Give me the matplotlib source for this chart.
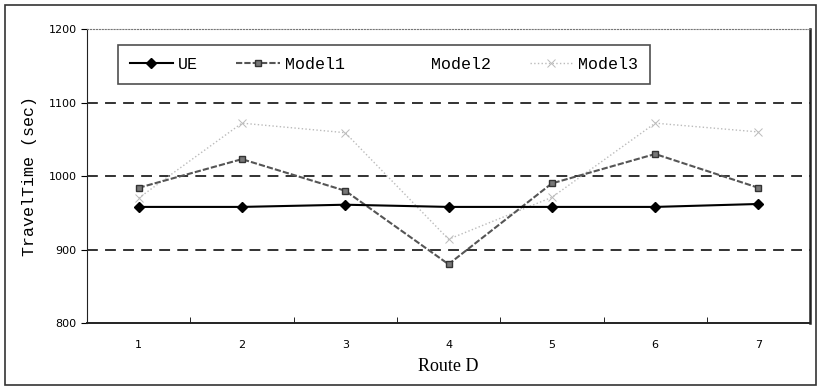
import matplotlib.pyplot as plt
from matplotlib.lines import Line2D
from matplotlib.patches import Rectangle

routes = ['1', '2', '3', '4', '5', '6', '7']
ue = [958, 958, 961, 958, 958, 958, 962]
model1 = [984, 1023, 980, 880, 990, 1030, 984]
model3 = [970, 1072, 1059, 914, 971, 1072, 1060]
yticks = [800, 900, 1000, 1100, 1200]

fig = plt.figure(figsize=(8.2, 3.88), dpi=100)
ax = fig.add_axes([0.106, 0.1675, 0.882, 0.7575])

# outer frame round the whole chart
fig.patches.append(Rectangle((0.006, 0.008), 0.989, 0.979, transform=fig.transFigure,
                             fill=False, edgecolor='#333333', linewidth=1.2))

x = range(len(routes))
for g in [900, 1000, 1100]:
    ax.axhline(g, color='#222222', linestyle=(0, (6, 4)), linewidth=1.3, zorder=1)

ax.plot(x, model3, color='#bbbbbb', linestyle=':', linewidth=1.0, marker='x',
        markersize=6, markeredgewidth=0.7, label='Model3', zorder=2)
ax.plot(x, model1, color='#555555', linestyle=(0, (3, 1)), linewidth=1.5, marker='s',
        markersize=5, markerfacecolor='#777777', markeredgecolor='#333333',
        label='Model1', zorder=3)
ax.plot(x, ue, color='black', linewidth=1.5, marker='D', markersize=5, label='UE', zorder=4)

ax.set_xlim(-0.5, len(routes) - 0.5)
ax.set_ylim(800, 1200)
ax.set_yticks(yticks)
ax.set_xticks(list(x))
ax.set_xticklabels(routes, fontsize=8, family='DejaVu Sans')
ax.set_xticks([i + 0.5 for i in range(len(routes) - 1)], minor=True)
ax.tick_params(axis='x', which='major', length=0, pad=12)
ax.tick_params(axis='x', which='minor', direction='in', length=4)
ax.tick_params(axis='y', labelsize=8, length=4)

for s in ax.spines.values():
    s.set_color('#222222')
ax.spines['top'].set_color('#777777')
ax.spines['top'].set_linestyle(':')
ax.spines['right'].set_linewidth(1.8)
ax.spines['bottom'].set_linewidth(1.4)

ax.set_ylabel('TravelTime (sec)', family='Liberation Mono', fontsize=12, labelpad=8)
ax.set_xlabel('Route D', family='Liberation Serif', fontsize=13, labelpad=6)

handles = [
    Line2D([], [], color='black', linewidth=1.5, marker='D', markersize=5),
    Line2D([], [], color='#555555', linestyle=(0, (3, 1)), linewidth=1.5, marker='s',
           markersize=5, markerfacecolor='#777777', markeredgecolor='#333333'),
    Line2D([], [], color='none'),
    Line2D([], [], color='#bbbbbb', linestyle=':', linewidth=1.0, marker='x',
           markersize=6, markeredgewidth=0.7),
]
leg = ax.legend(handles, ['UE', 'Model1', 'Model2', 'Model3'], ncol=4,
                loc='upper left', bbox_to_anchor=(0.043, 0.945), frameon=True,
                fancybox=False, edgecolor='#222222', prop={'family': 'Liberation Mono', 'size': 12},
                handlelength=2.6, handletextpad=0.3, columnspacing=2.3, borderpad=0.7,
                borderaxespad=0)
leg.get_frame().set_linewidth(1.2)

fig.savefig('out.png', dpi=100)
